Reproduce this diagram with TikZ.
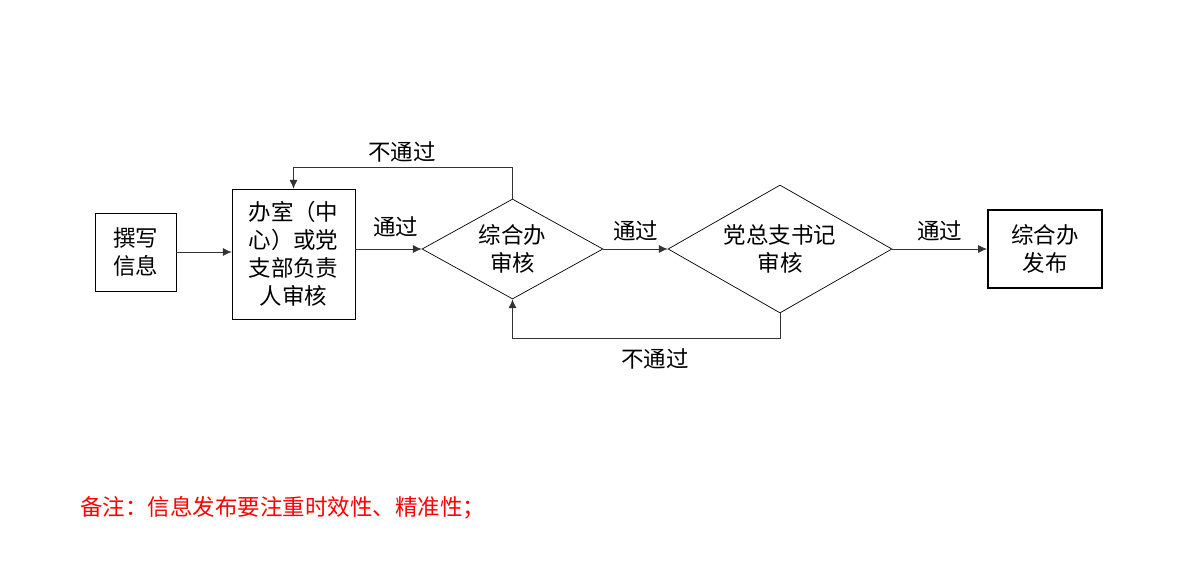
\documentclass[tikz,border=0pt]{standalone}
\usepackage{fontspec}
\usepackage{tikz}
\usetikzlibrary{arrows.meta,positioning,shapes.geometric}
\newfontfamily\cjk{Noto Sans CJK SC}
\tikzset{%
	process/.style  = {draw, rectangle, inner sep=0pt, text centered, align=center, font=\cjk\fontsize{12.8}{15.9}\selectfont},
	decision/.style = {draw, diamond, aspect=2, inner sep=0pt, text centered, align=center, font=\cjk\fontsize{12.8}{15.9}\selectfont},
	arrow/.style    = {draw=black!80, -{Latex[length=5pt,width=4.5pt]}},
	lbl/.style      = {font=\cjk\fontsize{12.8}{15.9}\selectfont},
}
\begin{document}
\begin{tikzpicture}[x=0.02cm,y=-0.02cm]
	\useasboundingbox (0,0) rectangle (1198,582);
	\node[process, minimum width=1.62cm, minimum height=1.56cm] (write) at (135.5,252) {撰写\\信息};
	\node[process, minimum width=2.46cm, minimum height=2.6cm] (branch) at (293.5,254) {办室（中\\心）或党\\支部负责\\人审核};
	\node[decision, minimum width=3.62cm, minimum height=2cm] (office) at (512.5,249) {综合办\\审核};
	\node[decision, minimum width=4.48cm, minimum height=2.56cm] (secretary) at (780,249) {党总支书记\\审核};
	\node[process, very thick, minimum width=2.28cm, minimum height=1.56cm] (publish) at (1045,249) {综合办\\发布};
	
	\draw[arrow] (write.east) -- (write.east -| branch.west);
	\draw[arrow] (branch.east |- office.west) -- node[lbl, above=3pt, xshift=4pt] {通过} (office.west);
	\draw[arrow] (office.east) -- node[lbl, above=1pt] {通过} (secretary.west);
	\draw[arrow] (secretary.east) -- node[lbl, above=1pt] {通过} (publish.west);
	
	\draw[arrow] (office.north) -- ++(0,-31) coordinate (up) -| (branch.north);
	\node[lbl] (fail1) at (402,152) {不通过};
	\draw[arrow] (secretary.south) -- ++(0,25) coordinate (down) -| (office.south);
	\node[lbl] (fail2) at (655,359) {不通过};
	
	\node[lbl, text=red, anchor=west, inner sep=0pt] (note) at (80,508) {备注：信息发布要注重时效性、精准性；};
\end{tikzpicture}
\end{document}
